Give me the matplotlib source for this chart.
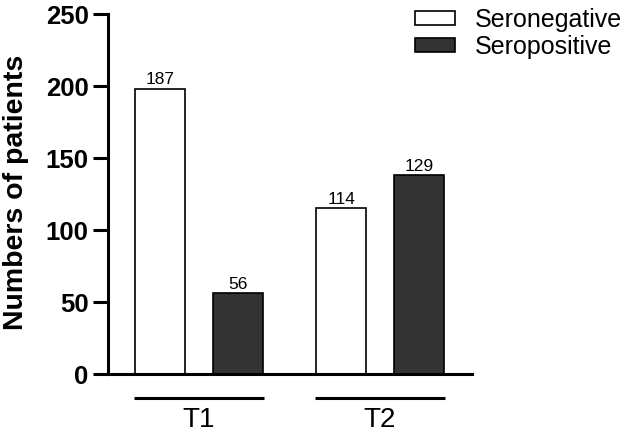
import numpy as np
import matplotlib
matplotlib.use("Agg")
import matplotlib.pyplot as plt

plt.rcParams['font.family'] = ['Liberation Sans', 'DejaVu Sans']

groups = ['T1', 'T2']
series = ['Seronegative', 'Seropositive']
# bar heights as drawn, and the numbers printed above them
heights = {'Seronegative': [198, 115], 'Seropositive': [56, 138]}
labels = {'Seronegative': ['187', '114'], 'Seropositive': ['56', '129']}
colors = {'Seronegative': 'white', 'Seropositive': '#333333'}
offsets = {'Seronegative': -0.215, 'Seropositive': 0.215}

fig = plt.figure(figsize=(6.29, 4.37), dpi=100)
ax = fig.add_axes([108/629, 1-374/437, 364/629, 360/437])

x = np.arange(len(groups))
width = 0.276
for s in series:
    bars = ax.bar(x + offsets[s], heights[s], width, color=colors[s],
                  edgecolor='black', linewidth=1.2, label=s)
    for b, txt in zip(bars, labels[s]):
        ax.text(b.get_x() + b.get_width()/2, b.get_height() + 1, txt,
                ha='center', va='bottom', fontsize=12.5)

ax.set_xlim(-0.503, 1.508)
ax.set_ylim(0, 250)
ax.set_yticks([0, 50, 100, 150, 200, 250])
for lab in ax.get_yticklabels():
    lab.set_fontweight('bold')
ax.tick_params(axis='y', labelsize=18.5, width=2.2, length=11, pad=3)
ax.set_xticks([])
for sp in ['top', 'right']:
    ax.spines[sp].set_visible(False)
ax.spines['left'].set_linewidth(2.2)
ax.spines['bottom'].set_linewidth(2.2)

fig.text(16/629, 1 - 192/437, 'Numbers of patients', rotation=90,
         ha='center', va='center', fontsize=20.5, fontweight='bold')

# group lines and labels under the axis
tr = ax.get_xaxis_transform()
for xi, g in zip(x, groups):
    ax.plot([xi - 0.358, xi + 0.358], [-0.067, -0.067], color='black',
            lw=2.2, transform=tr, clip_on=False, solid_capstyle='butt')
    ax.text(xi, -0.128, g, transform=tr, ha='center', va='center', fontsize=20)

fig.legend(loc='upper left', bbox_to_anchor=(415/629, 1 - 8/437),
           frameon=False, fontsize=18, handlelength=1.6, handleheight=0.48,
           handletextpad=0.8, labelspacing=0.12, borderpad=0, borderaxespad=0)

fig.savefig('out.png', dpi=100)
